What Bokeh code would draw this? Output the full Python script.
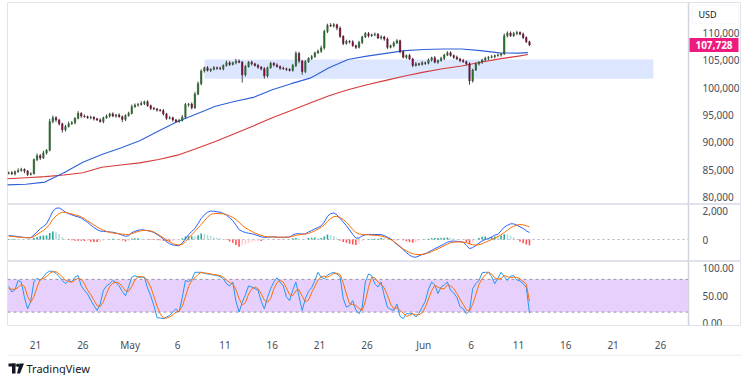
import numpy as np
from bokeh.plotting import figure
from bokeh.layouts import column
from bokeh.models import (FixedTicker, NumeralTickFormatter, BoxAnnotation,
                          Label, Range1d)
from bokeh.embed import file_html
from bokeh.resources import INLINE
from bokeh.core.properties import value

FONT = "Noto Sans"

# ---------------- data ----------------
# time in days relative to 21 Apr; 8-hour candles starting 18 Apr
first_day = -3
candle_hours = 8
first_open = 84.4  # thousand USD

closes = [  # thousand USD
    84.5, 84.3, 84.7, 84.9, 85.1, 84.8, 84.2, 84.3, 86.9, 87.6,
    87.2, 88.1, 88.6, 93.8, 94.5, 94.1, 93.4, 92.3, 92.9, 93.4,
    93.6, 94.4, 95.3, 94.8, 94.7, 94.5, 94.6, 94.3, 94.1, 93.8,
    94.5, 94.8, 95.2, 94.8, 95.0, 94.7, 94.2, 94.9, 95.3, 96.5,
    96.8, 96.9, 97.1, 97.4, 96.7, 96.2, 96.1, 95.9, 95.8, 95.2,
    94.4, 94.5, 94.1, 93.8, 94.0, 94.6, 96.9, 97.0, 96.3, 98.8,
    100.7, 103.0, 103.6, 103.1, 103.3, 103.6, 103.5, 103.4, 104.0, 104.5,
    104.2, 104.5, 104.8, 104.6, 102.3, 103.8, 104.6, 104.3, 104.0, 103.7,
    103.4, 102.1, 103.6, 104.4, 104.1, 103.8, 103.5, 103.4, 103.3, 103.1,
    104.0, 106.2, 104.8, 102.9, 104.7, 105.3, 105.6, 106.3, 106.6, 107.2,
    110.2, 111.3, 111.2, 111.4, 110.8, 109.3, 108.0, 108.4, 108.3, 107.6,
    107.3, 108.2, 109.2, 109.8, 109.4, 109.6, 109.7, 109.0, 109.2, 108.8,
    107.3, 107.6, 108.1, 108.5, 106.5, 105.5, 105.8, 105.2, 104.0, 104.3,
    104.2, 104.5, 104.4, 105.0, 105.4, 104.6, 104.9, 105.3, 105.9, 106.3,
    105.8, 105.5, 105.2, 104.9, 104.7, 104.3, 101.2, 103.2, 104.3, 104.6,
    105.0, 105.3, 105.5, 105.6, 105.8, 105.9, 106.1, 109.4, 109.9, 109.4,
    109.8, 110.0, 109.7, 109.1, 108.3, 107.728,
]
wick_up = [  # hundred USD above body
    2, 3, 2, 4, 3, 2, 2, 3, 2, 4,  3, 4, 2, 5, 4, 3, 2, 2, 3, 4,
    3, 2, 4, 2, 3, 2, 3, 2, 2, 3,  2, 3, 2, 3, 2, 3, 2, 2, 3, 4,
    3, 3, 4, 2, 3, 2, 3, 2, 2, 3,  2, 3, 2, 2, 3, 4, 3, 2, 3, 4,
    4, 3, 2, 3, 2, 3, 2, 3, 2, 4,  3, 2, 4, 3, 2, 3, 2, 3, 2, 3,
    2, 3, 2, 3, 2, 3, 2, 3, 2, 2,  3, 4, 3, 2, 3, 2, 3, 2, 3, 4,
    3, 3, 4, 3, 2, 3, 2, 3, 2, 3,  2, 3, 2, 3, 3, 2, 3, 2, 3, 2,
    3, 2, 3, 3, 2, 3, 2, 3, 2, 3,  2, 3, 2, 3, 2, 3, 2, 3, 2, 3,
    3, 2, 3, 2, 3, 2, 3, 2, 3, 2,  2, 3, 2, 3, 2, 3, 2, 4, 3, 3,
    3, 3, 2, 3, 2, 2,
]
wick_dn = [  # hundred USD below body
    2, 2, 3, 2, 2, 4, 3, 2, 1, 3,  4, 2, 3, 2, 3, 4, 3, 5, 3, 2,
    2, 3, 2, 3, 2, 2, 3, 3, 2, 2,  3, 2, 3, 2, 3, 2, 5, 3, 2, 2,
    2, 3, 2, 3, 2, 3, 2, 3, 2, 3,  3, 2, 3, 2, 2, 2, 3, 4, 3, 2,
    2, 3, 3, 2, 3, 2, 3, 2, 3, 2,  3, 2, 3, 2, 14, 3, 2, 3, 2, 3,
    3, 5, 3, 2, 3, 2, 3, 2, 3, 2,  2, 3, 4, 6, 3, 2, 3, 2, 2, 3,
    3, 3, 2, 3, 4, 3, 3, 2, 3, 2,  3, 2, 3, 2, 3, 2, 3, 2, 3, 3,
    3, 2, 3, 2, 3, 2, 3, 2, 3, 2,  3, 2, 3, 2, 3, 2, 3, 2, 3, 2,
    2, 3, 2, 3, 2, 3, 7, 3, 2, 3,  3, 2, 3, 2, 3, 2, 3, 2, 3, 2,
    2, 3, 2, 3, 2, 2,
]

# moving averages, sampled every two days
ma_days = [-3, -1, 1, 3, 5, 7, 9, 11, 13, 15, 17, 19, 21, 23, 25, 27, 29,
           31, 33, 35, 37, 39, 41, 43, 45, 47, 49, 51, 52]
ma_fast = [82.3, 82.4, 82.8, 84.5, 86.4, 87.8, 89.0, 90.3, 92.1, 93.8, 95.2,
           96.6, 97.45, 98.2, 99.6, 100.7, 101.7, 103.6, 105.1, 105.7, 106.2,
           106.7, 106.9, 107.0, 107.0, 106.7, 106.3, 106.25, 106.35]
ma_slow = [83.4, 83.6, 83.8, 84.1, 84.5, 85.5, 85.9, 86.3, 86.9, 87.7, 88.9,
           90.2, 91.6, 93.0, 94.5, 95.8, 97.2, 98.5, 99.6, 100.5, 101.3,
           102.1, 102.8, 103.4, 103.9, 104.6, 105.2, 105.7, 106.0]

macd_line = [
    270, 250, 230, 200, 170, 140, 120, 130, 300, 520,
    740, 900, 1080, 1500, 1950, 2150, 2180, 2050, 1880, 1780,
    1700, 1620, 1560, 1480, 1330, 1180, 1000, 830, 680, 580,
    560, 540, 520, 500, 450, 380, 300, 220, 260, 470,
    560, 640, 670, 650, 610, 560, 490, 350, 200, 40,
    -150, -300, -380, -410, -420, -250, 50, 330, 560, 760,
    1100, 1450, 1700, 1880, 1960, 1950, 1910, 1880, 1800, 1680,
    1500, 1300, 1000, 680, 560, 480, 430, 400, 340, 260,
    180, 150, 150, 180, 180, 160, 150, 150, 160, 170,
    300, 400, 390, 380, 390, 520, 620, 730, 820, 950,
    1200, 1600, 1780, 1830, 1700, 1450, 1200, 950, 650, 350,
    100, 100, 250, 330, 350, 350, 340, 340, 340, 270,
    160, 60, -150, -350, -500, -700, -900, -1080, -1200, -1220,
    -1130, -1030, -980, -870, -750, -630, -530, -420, -300, -190,
    -120, -110, -130, -150, -180, -400, -630, -560, -420, -250,
    -100, 0, 60, 180, 300, 360, 600, 850, 980, 1080,
    1080, 980, 880, 760, 600, 480,
]
signal_line = [
    230, 210, 190, 170, 150, 130, 120, 120, 200, 350,
    490, 620, 800, 1050, 1400, 1620, 1800, 1880, 1870, 1820,
    1760, 1700, 1640, 1560, 1440, 1280, 1150, 1000, 860, 740,
    640, 560, 500, 450, 420, 390, 370, 350, 350, 400,
    480, 560, 610, 630, 620, 590, 520, 400, 260, 120,
    -30, -160, -280, -350, -380, -330, -150, 100, 330, 560,
    800, 1030, 1300, 1540, 1720, 1790, 1790, 1780, 1770, 1720,
    1630, 1520, 1380, 1180, 980, 800, 680, 560, 450, 360,
    280, 220, 190, 180, 170, 160, 160, 160, 160, 170,
    220, 290, 330, 360, 380, 420, 500, 600, 720, 850,
    1000, 1250, 1450, 1580, 1600, 1520, 1380, 1180, 950, 700,
    480, 380, 350, 330, 320, 300, 290, 280, 240, 180,
    100, 0, -130, -300, -480, -650, -780, -900, -980, -1030,
    -1040, -1030, -990, -920, -830, -740, -640, -530, -420, -320,
    -220, -180, -170, -170, -180, -220, -300, -360, -390, -360,
    -290, -200, -100, 0, 100, 200, 320, 480, 640, 800,
    920, 1000, 1030, 1010, 950, 880,
]

stoch_k = [
    67, 57, 61, 78, 75, 47, 26, 40, 76, 82,
    78, 85, 92, 95, 95, 91, 85, 78, 72, 78,
    75, 84, 87, 68, 60, 53, 42, 32, 23, 35,
    60, 68, 72, 78, 74, 68, 58, 50, 66, 84,
    87, 84, 84, 84, 64, 50, 32, 10, 9, 8,
    11, 14, 20, 26, 20, 47, 78, 76, 80, 93,
    93, 93, 91, 90, 89, 88, 87, 85, 81, 72,
    68, 75, 40, 20, 38, 52, 68, 66, 63, 60,
    40, 26, 47, 63, 75, 83, 75, 68, 48, 41,
    60, 75, 48, 23, 45, 58, 65, 78, 93, 84,
    81, 88, 91, 93, 90, 84, 45, 29, 32, 41,
    24, 17, 29, 75, 90, 87, 72, 66, 75, 50,
    29, 25, 23, 35, 12, 8, 17, 17, 17, 11,
    18, 29, 40, 62, 75, 70, 54, 66, 70, 75,
    60, 55, 47, 30, 26, 17, 22, 63, 72, 78,
    92, 93, 93, 85, 72, 82, 93, 85, 78, 86,
    87, 79, 77, 72, 65, 18,
]
stoch_d = [
    63, 62, 62, 65, 71, 67, 49, 38, 48, 66,
    80, 82, 85, 91, 94, 94, 90, 85, 78, 76,
    75, 79, 82, 80, 72, 60, 52, 42, 32, 30,
    39, 54, 67, 73, 75, 73, 67, 59, 58, 67,
    79, 85, 85, 84, 77, 66, 49, 31, 17, 9,
    9, 11, 15, 20, 22, 31, 48, 67, 78, 83,
    89, 93, 92, 91, 90, 89, 88, 87, 84, 79,
    74, 72, 61, 45, 33, 37, 53, 62, 66, 63,
    54, 42, 38, 45, 62, 74, 78, 75, 64, 52,
    50, 59, 61, 49, 39, 42, 56, 67, 79, 85,
    86, 84, 87, 91, 91, 89, 73, 53, 35, 34,
    32, 27, 23, 40, 65, 84, 83, 75, 71, 64,
    51, 35, 26, 28, 23, 18, 12, 14, 17, 15,
    15, 19, 29, 44, 59, 69, 66, 63, 63, 70,
    68, 63, 54, 44, 34, 24, 22, 34, 52, 71,
    81, 88, 93, 90, 83, 80, 82, 87, 85, 83,
    84, 84, 81, 76, 71, 40,
]

last_price = 107728
zone_start, zone_end = 17.85, 65.25     # days
zone_low, zone_high = 101600, 105100

x_tick_days = [0, 5, 10, 15, 20, 25, 30, 35, 41, 46, 51, 56, 61, 66]
x_tick_labels = ["21", "26", "May", "6", "11", "16", "21", "26",
                 "Jun", "6", "11", "16", "21", "26"]
price_ticks = [80000, 85000, 90000, 95000, 100000, 105000, 110000]
macd_ticks = [0, 2000]
stoch_ticks = [0, 50, 100]
stoch_bands = [20, 80]

# ---------------- derived ----------------
n = len(closes)
t = np.array([first_day + (i + 0.5) * candle_hours / 24 for i in range(n)])
c = np.array(closes) * 1000.0
o = np.concatenate([[first_open * 1000.0], c[:-1]])
hi = np.maximum(o, c) + np.array(wick_up) * 100.0
lo = np.minimum(o, c) - np.array(wick_dn) * 100.0
inc = c >= o
bar_w = candle_hours / 24 * 0.45

hist = np.array(macd_line, float) - np.array(signal_line, float)
hcol = []
for i, h in enumerate(hist):
    prev = hist[i - 1] if i > 0 else h
    if h >= 0:
        hcol.append("#26A69A" if h >= prev else "#B2DFDB")
    else:
        hcol.append("#FF5252" if h <= prev else "#FFCDD2")

# ---------------- figures ----------------
X0, XSEP, X1 = -2.957, 68.96, 74.557     # view start, price-scale edge, view end
xr = Range1d(X0, X1)
GRID = "#E0E3EB"
TXT = "#4A4D57"
PX_PER_USD = 27.5 / 5000                 # vertical scale of the price pane


def base(fh, yr, bottom=0):
    p = figure(frame_width=734, frame_height=fh, x_range=xr, y_range=yr,
               x_axis_location=("below" if bottom else None),
               y_axis_location="right", toolbar_location=None,
               output_backend="svg", min_border_left=0, min_border_right=0,
               min_border_top=0, min_border_bottom=bottom)
    p.grid.visible = False
    p.outline_line_color = GRID
    p.background_fill_color = "white"
    p.border_fill_color = "white"
    ax = p.yaxis[0]
    ax.fixed_location = XSEP
    ax.axis_line_color = "#D1D4DC"
    ax.axis_line_width = 1.5
    ax.major_tick_line_color = None
    ax.minor_tick_line_color = None
    ax.major_label_standoff = 8
    ax.major_label_text_font = FONT
    ax.major_label_text_font_size = "10px"
    ax.major_label_text_color = TXT
    return p


pa = base(202, Range1d(78727, 115455))
pa.yaxis[0].ticker = FixedTicker(ticks=price_ticks)
pa.yaxis[0].formatter = NumeralTickFormatter(format="0,0")

pa.add_layout(BoxAnnotation(left=zone_start, right=zone_end, bottom=zone_low,
                            top=zone_high, fill_color="#2962FF", fill_alpha=0.16,
                            line_color=None, level="underlay"))
pa.line(ma_days, np.array(ma_slow) * 1000, line_color="#D63A3A", line_width=1.1)
pa.line(ma_days, np.array(ma_fast) * 1000, line_color="#2F62D6", line_width=1.1)
pa.segment(t, hi, t, lo, line_color="#4A4A4A", line_width=1)
pa.vbar(t[inc], bar_w, o[inc], c[inc], fill_color="#2E7D32",
        line_color="#1F4F22", line_width=0.5)
pa.vbar(t[~inc], bar_w, o[~inc], c[~inc], fill_color="#8E1447",
        line_color="#4A0A25", line_width=0.5)

# last-price tag and currency box on the price scale
half_tag = 7 / PX_PER_USD
pa.add_layout(BoxAnnotation(left=682, right=731, left_units="screen",
                            right_units="screen", bottom=last_price - half_tag,
                            top=last_price + half_tag, fill_color="#EF1A7D",
                            fill_alpha=1, line_color=None, level="annotation"))
pa.add_layout(Label(x=706.5, y=last_price, x_units="screen", y_units="data",
                    text=f"{last_price:,}", text_align="center",
                    text_baseline="middle", text_color="white",
                    text_font=FONT, text_font_size="10px",
                    text_font_style="bold"))
usd_mid = 110000 + 18 / PX_PER_USD
usd_half = 9 / PX_PER_USD
pa.add_layout(BoxAnnotation(left=685, right=731, left_units="screen",
                            right_units="screen", bottom=usd_mid - usd_half,
                            top=usd_mid + usd_half, fill_color="white",
                            fill_alpha=1, line_color="#E0E3EB", line_width=1,
                            level="annotation"))
pa.add_layout(Label(x=691, y=usd_mid, x_units="screen", y_units="data",
                    text="USD", text_align="left", text_baseline="middle",
                    text_color="#131722", text_font=FONT,
                    text_font_size="9px"))

pb = base(57, Range1d(-1517, 2414))
pb.yaxis[0].ticker = FixedTicker(ticks=macd_ticks)
pb.yaxis[0].formatter = NumeralTickFormatter(format="0,0")
pb.segment([X0], [0], [XSEP], [0], line_color="#B2B5BE", line_dash="2 3",
           line_width=1)
pb.vbar(t, candle_hours / 24 * 0.5, 0, hist, fill_color=hcol, line_color=None)
pb.line(t, macd_line, line_color="#2962FF", line_width=1)
pb.line(t, signal_line, line_color="#FF6D00", line_width=1)

pc = base(64, Range1d(-4.59, 112.8), bottom=24)
pc.yaxis[0].ticker = FixedTicker(ticks=stoch_ticks)
pc.yaxis[0].formatter = NumeralTickFormatter(format="0.00")
pc.add_layout(BoxAnnotation(right=XSEP, bottom=stoch_bands[0], top=stoch_bands[1],
                            fill_color="#E7D1FC", fill_alpha=1, line_color=None,
                            level="underlay"))
pc.segment([X0] * 2, stoch_bands, [XSEP] * 2, stoch_bands,
           line_color="#9C8FB0", line_dash="3 3", line_width=1)
pc.line(t, stoch_k, line_color="#2196F3", line_width=1)
pc.line(t, stoch_d, line_color="#FF6D00", line_width=1)
xa = pc.xaxis[0]
xa.ticker = FixedTicker(ticks=x_tick_days)
xa.major_label_overrides = {d: s for d, s in zip(x_tick_days, x_tick_labels)}
xa.axis_line_color = None
xa.major_tick_line_color = None
xa.minor_tick_line_color = None
xa.major_label_standoff = 6
xa.major_label_text_font = FONT
xa.major_label_text_font_size = "10px"
xa.major_label_text_color = TXT

# footer with logo
pd_ = figure(frame_width=734, frame_height=26, x_range=Range1d(0, 734),
             y_range=Range1d(0, 26), x_axis_location=None, y_axis_location=None,
             toolbar_location=None, output_backend="svg", min_border_left=0,
             min_border_right=0, min_border_top=0, min_border_bottom=0)
pd_.grid.visible = False
pd_.outline_line_color = None
pd_.segment([0], [25.5], [734], [25.5], line_color=GRID, line_width=1)
pd_.quad(left=[1, 4.5], right=[8, 8], bottom=[14, 7], top=[17, 17],
         fill_color="#131722", line_color=None)
pd_.scatter([10.3], [15.3], size=3.4, fill_color="#131722", line_color=None)
pd_.patch([12, 16.5, 12.5, 9.5], [17, 17, 7, 7], fill_color="#131722",
          line_color=None)
pd_.text([19], [12.3], text=["TradingView"], text_font=value(FONT),
         text_font_size="11px", text_color="#131722", text_baseline="middle",
         text_align="left")

layout = column(pa, pb, pc, pd_, spacing=0, margin=(2, 0, 0, 7))

open("out.html", "w").write(file_html(layout, INLINE))
